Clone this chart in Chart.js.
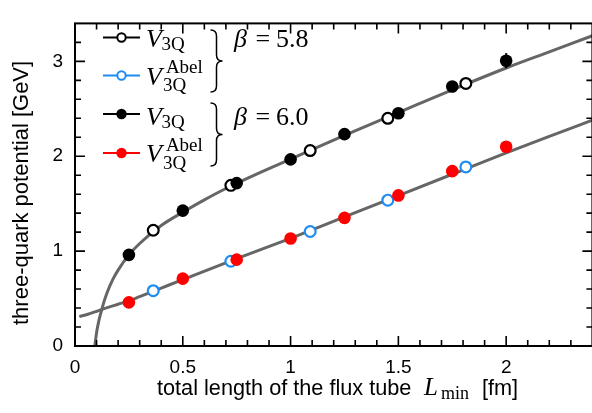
<!DOCTYPE html>
<html>
<head>
<meta charset="utf-8">
<script src="https://cdn.jsdelivr.net/npm/chart.js@4"></script>
<style>
  html, body { margin: 0; padding: 0; background: #fff; overflow: hidden; }
  canvas { display: block; }
</style>
</head>
<body>
<canvas id="chart" width="600" height="413"></canvas>
<script>
// beta = 5.8 (open symbols)
const L58 = [0.363, 0.723, 1.091, 1.451, 1.813];
const V58 = [1.22, 1.693, 2.06, 2.40, 2.767];
const Abel58 = [0.583, 0.893, 1.207, 1.537, 1.887];

// beta = 6.0 (filled symbols)
const L60 = [0.25, 0.5, 0.75, 1.0, 1.25, 1.5, 1.75, 2.0];
const V60 = [0.96, 1.427, 1.717, 1.967, 2.233, 2.453, 2.735, 3.007];
const V60err = [0, 0, 0, 0, 0, 0, 0, 0.08];
const Abel60 = [0.46, 0.71, 0.91, 1.133, 1.35, 1.587, 1.843, 2.10];

// fit curves
const fitV_L = [0.092, 0.1, 0.11, 0.12, 0.135, 0.15, 0.175, 0.2, 0.25, 0.3, 0.4, 0.5, 0.6, 0.7, 0.85, 1.0, 1.25, 1.5, 1.75, 2.0, 2.2, 2.4];
const fitV_y = [0.0, 0.14, 0.26, 0.35, 0.47, 0.57, 0.70, 0.80, 0.96, 1.08, 1.27, 1.41, 1.54, 1.66, 1.82, 1.97, 2.22, 2.46, 2.70, 2.93, 3.10, 3.27];
const fitAbel_L = [0.02, 0.06, 0.1, 0.15, 0.2, 0.25, 0.3, 0.4, 0.5, 0.75, 1.0, 1.25, 1.5, 1.75, 2.0, 2.2, 2.4];
const fitAbel_y = [0.31, 0.335, 0.365, 0.405, 0.44, 0.475, 0.52, 0.61, 0.70, 0.92, 1.135, 1.36, 1.585, 1.81, 2.035, 2.21, 2.38];

const xTicks = [0, 0.5, 1, 1.5, 2];
const yTicks = [0, 1, 2, 3];

const BLUE = '#1e8cf0';
const RED = '#ff0000';
const GREY = '#666666';
const SANS = '"Liberation Sans", Arial, sans-serif';
const SERIF = '"Liberation Serif", "Times New Roman", serif';

const pts = (xs, ys) => xs.map((x, i) => ({ x: x, y: ys[i] }));

function brace(ctx, x0, y0, y1, w) {
  const ym = (y0 + y1) / 2, xm = x0 + w / 2, r = 6;
  ctx.beginPath();
  ctx.moveTo(x0, y0);
  ctx.quadraticCurveTo(xm, y0, xm, y0 + r);
  ctx.lineTo(xm, ym - r);
  ctx.quadraticCurveTo(xm, ym, x0 + w, ym);
  ctx.quadraticCurveTo(xm, ym, xm, ym + r);
  ctx.lineTo(xm, y1 - r);
  ctx.quadraticCurveTo(xm, y1, x0, y1);
  ctx.stroke();
}

function mathV(ctx, x, base, abel) {
  ctx.font = 'italic 26px ' + SERIF;
  ctx.fillText('V', x, base);
  const w = ctx.measureText('V').width;
  ctx.font = '19px ' + SERIF;
  if (abel) {
    ctx.fillText('Abel', x + w + 4, base - 11.5);
    ctx.fillText('3Q', x + w + 1, base + 6.5);
  } else {
    ctx.fillText('3Q', x + w - 0.5, base + 3.5);
  }
}

const decor = {
  id: 'decor',
  afterDatasetsDraw(chart) {
    const { ctx, scales: { x, y } } = chart;
    // error bars
    ctx.save();
    ctx.strokeStyle = '#000';
    ctx.lineWidth = 2;
    V60err.forEach((e, i) => {
      if (!e) return;
      const px = x.getPixelForValue(L60[i]);
      ctx.beginPath();
      ctx.moveTo(px, y.getPixelForValue(V60[i] - e));
      ctx.lineTo(px, y.getPixelForValue(V60[i] + e));
      ctx.stroke();
    });
    ctx.restore();
  },
  afterDraw(chart) {
    const { ctx, chartArea: a, scales: { x, y } } = chart;
    ctx.save();
    // frame
    ctx.strokeStyle = '#000';
    ctx.lineWidth = 2;
    ctx.strokeRect(a.left, a.top, a.right - a.left, a.bottom - a.top);
    // inward ticks on all four sides
    ctx.lineWidth = 1.6;
    ctx.beginPath();
    for (let i = 1; i < 24; i++) {
      const px = x.getPixelForValue(i / 10);
      const len = i % 5 === 0 ? 10 : 6;
      ctx.moveTo(px, a.bottom); ctx.lineTo(px, a.bottom - len);
      ctx.moveTo(px, a.top); ctx.lineTo(px, a.top + len);
    }
    for (let i = 1; i < 17; i++) {
      const py = y.getPixelForValue(i / 5);
      const len = i % 5 === 0 ? 10 : 6;
      ctx.moveTo(a.left, py); ctx.lineTo(a.left + len, py);
      ctx.moveTo(a.right, py); ctx.lineTo(a.right - len, py);
    }
    ctx.stroke();

    // axis titles
    ctx.fillStyle = '#000';
    ctx.textAlign = 'left';
    ctx.textBaseline = 'alphabetic';
    ctx.font = '21.7px ' + SANS;
    ctx.fillText('total length of the flux tube', 157, 395);
    ctx.fillText('[fm]', 482, 395);
    ctx.font = 'italic 25px ' + SERIF;
    ctx.fillText('L', 424, 395);
    ctx.font = '18px ' + SERIF;
    ctx.fillText('min', 441, 399);

    ctx.save();
    ctx.translate(28, 325);
    ctx.rotate(-Math.PI / 2);
    ctx.font = '22px ' + SANS;
    ctx.fillText('three-quark potential [GeV]', 0, 0);
    ctx.restore();

    // legend
    const rows = [
      { ly: 37.5, base: 46.5, col: '#000', open: true, abel: false },
      { ly: 75.5, base: 84.5, col: BLUE, open: true, abel: true },
      { ly: 114, base: 124.5, col: '#000', open: false, abel: false },
      { ly: 153, base: 162, col: RED, open: false, abel: true }
    ];
    rows.forEach(r => {
      ctx.strokeStyle = r.col;
      ctx.lineWidth = 2;
      ctx.beginPath();
      ctx.moveTo(103, r.ly); ctx.lineTo(140, r.ly);
      ctx.stroke();
      ctx.beginPath();
      if (r.open) {
        ctx.arc(121.5, r.ly, 4.2, 0, Math.PI * 2);
        ctx.fillStyle = '#fff';
        ctx.fill();
        ctx.stroke();
      } else {
        ctx.arc(121.5, r.ly, 5.2, 0, Math.PI * 2);
        ctx.fillStyle = r.col;
        ctx.fill();
      }
      ctx.fillStyle = '#000';
      mathV(ctx, 146, r.base, r.abel);
    });

    ctx.strokeStyle = '#000';
    ctx.lineWidth = 1.5;
    brace(ctx, 210.5, 30, 92, 12);
    brace(ctx, 210.5, 103, 166, 12);

    [['5.8', 46.5], ['6.0', 124.5]].forEach(([b, base]) => {
      ctx.font = 'italic 26px ' + SERIF;
      ctx.fillText('\u03b2', 234, base);
      ctx.font = '26px ' + SERIF;
      ctx.fillText('=', 255.5, base);
      ctx.fillText(b, 276, base);
    });
    ctx.restore();
  }
};

new Chart(document.getElementById('chart'), {
  type: 'scatter',
  data: {
    datasets: [
      { data: pts(fitV_L, fitV_y), showLine: true, pointRadius: 0, borderColor: GREY, borderWidth: 3, cubicInterpolationMode: 'monotone', order: 3 },
      { data: pts(fitAbel_L, fitAbel_y), showLine: true, pointRadius: 0, borderColor: GREY, borderWidth: 3, cubicInterpolationMode: 'monotone', order: 3 },
      { data: pts(L58, V58), pointRadius: 5.4, borderWidth: 2.2, borderColor: '#000', backgroundColor: '#fff', order: 2 },
      { data: pts(L58, Abel58), pointRadius: 5.4, borderWidth: 2.2, borderColor: BLUE, backgroundColor: '#fff', order: 2 },
      { data: pts(L60, V60), pointRadius: 6.3, borderWidth: 0, backgroundColor: '#000', order: 1 },
      { data: pts(L60, Abel60), pointRadius: 6.3, borderWidth: 0, backgroundColor: RED, order: 1 }
    ]
  },
  options: {
    responsive: false,
    animation: false,
    events: [],
    devicePixelRatio: 1,
    layout: { padding: { top: 7, right: 5, left: 0, bottom: 0 } },
    plugins: { legend: { display: false }, tooltip: { enabled: false } },
    scales: {
      x: {
        type: 'linear', min: 0, max: 2.4,
        grid: { display: false, drawTicks: false },
        border: { display: false },
        ticks: { color: '#000', font: { family: SANS, size: 19 }, padding: 10, maxRotation: 0, autoSkip: false, callback: v => String(v) },
        afterBuildTicks: s => { s.ticks = xTicks.map(v => ({ value: v })); },
        afterFit: s => { s.height = 67; }
      },
      y: {
        type: 'linear', min: 0, max: 3.4,
        grid: { display: false, drawTicks: false },
        border: { display: false },
        ticks: { color: '#000', font: { family: SANS, size: 19 }, padding: 12, autoSkip: false, callback: v => String(v) },
        afterBuildTicks: s => { s.ticks = yTicks.map(v => ({ value: v })); },
        afterFit: s => { s.width = 75; }
      }
    }
  },
  plugins: [decor]
});
</script>
</body>
</html>
